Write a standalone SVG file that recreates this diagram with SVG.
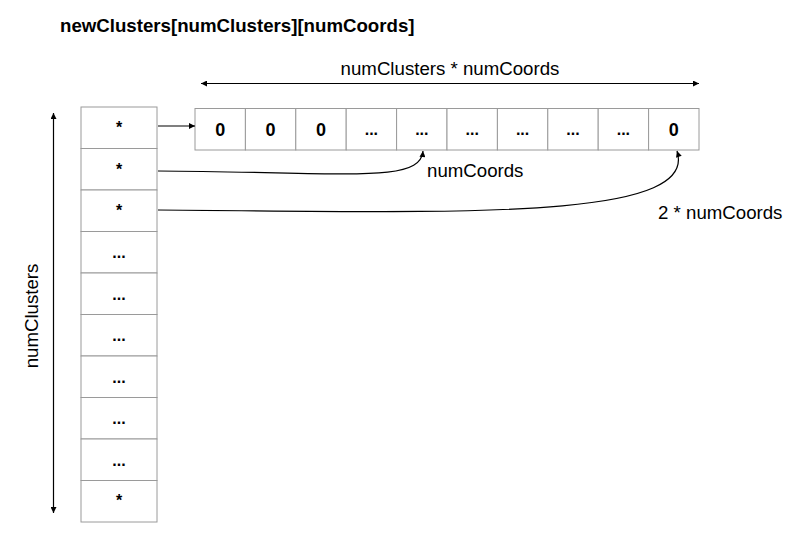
<svg xmlns="http://www.w3.org/2000/svg" width="803" height="544" viewBox="0 0 803 544">
<defs>
<marker id="ah" viewBox="0 0 10 10" refX="10" refY="5" markerWidth="7" markerHeight="6" markerUnits="userSpaceOnUse" orient="auto-start-reverse">
<path d="M0,0 L10,5 L0,10 Z" fill="#000"/>
</marker>
</defs>
<style>
.cell{fill:#fff;stroke:#9a9a9a;stroke-width:1}
.lbl{font-family:"Liberation Sans",Arial,sans-serif;font-size:18.67px;fill:#000}
.ttl{font-family:"Liberation Sans",Arial,sans-serif;font-size:18.67px;font-weight:bold;fill:#000}
.v{font-family:"Liberation Sans",Arial,sans-serif;font-size:16px;font-weight:bold;fill:#000;text-anchor:middle}
.z{font-family:"Liberation Sans",Arial,sans-serif;font-size:18px;font-weight:bold;fill:#000;text-anchor:middle}
.c{fill:none;stroke:#000;stroke-width:1.2}
</style>
<rect width="803" height="544" fill="#fff"/>
<text class="ttl" x="60" y="32">newClusters[numClusters][numCoords]</text>
<g id="pointer-column">
<rect class="cell" x="81" y="107" width="76" height="41.5"/>
<rect class="cell" x="81" y="148.5" width="76" height="41.5"/>
<rect class="cell" x="81" y="190" width="76" height="41.5"/>
<rect class="cell" x="81" y="231.5" width="76" height="41.5"/>
<rect class="cell" x="81" y="273" width="76" height="41.5"/>
<rect class="cell" x="81" y="314.5" width="76" height="41.5"/>
<rect class="cell" x="81" y="356" width="76" height="41.5"/>
<rect class="cell" x="81" y="397.5" width="76" height="41.5"/>
<rect class="cell" x="81" y="439" width="76" height="41.5"/>
<rect class="cell" x="81" y="480.5" width="76" height="41.5"/>
<text class="v" x="119" y="133">*</text>
<text class="v" x="119" y="174.5">*</text>
<text class="v" x="119" y="216">*</text>
<text class="v" x="119" y="258">...</text>
<text class="v" x="119" y="299.5">...</text>
<text class="v" x="119" y="341">...</text>
<text class="v" x="119" y="382.5">...</text>
<text class="v" x="119" y="424">...</text>
<text class="v" x="119" y="465.5">...</text>
<text class="v" x="119" y="506">*</text>
</g>
<g id="data-array">
<rect class="cell" x="195" y="108.5" width="50.4" height="41.5"/>
<rect class="cell" x="245.4" y="108.5" width="50.4" height="41.5"/>
<rect class="cell" x="295.8" y="108.5" width="50.4" height="41.5"/>
<rect class="cell" x="346.2" y="108.5" width="50.4" height="41.5"/>
<rect class="cell" x="396.6" y="108.5" width="50.4" height="41.5"/>
<rect class="cell" x="447" y="108.5" width="50.4" height="41.5"/>
<rect class="cell" x="497.4" y="108.5" width="50.4" height="41.5"/>
<rect class="cell" x="547.8" y="108.5" width="50.4" height="41.5"/>
<rect class="cell" x="598.2" y="108.5" width="50.4" height="41.5"/>
<rect class="cell" x="648.6" y="108.5" width="50.4" height="41.5"/>
<text class="z" x="220.2" y="136">0</text>
<text class="z" x="270.6" y="136">0</text>
<text class="z" x="321" y="136">0</text>
<text class="v" x="371.4" y="135">...</text>
<text class="v" x="421.8" y="135">...</text>
<text class="v" x="472.2" y="135">...</text>
<text class="v" x="522.6" y="135">...</text>
<text class="v" x="573" y="135">...</text>
<text class="v" x="623.4" y="135">...</text>
<text class="z" x="673.8" y="136">0</text>
</g>
<g id="connectors">
<line class="c" x1="201" y1="83.5" x2="699" y2="83.5" marker-start="url(#ah)" marker-end="url(#ah)"/>
<line class="c" x1="53.5" y1="113" x2="53.5" y2="513" marker-start="url(#ah)" marker-end="url(#ah)"/>
<line class="c" x1="158" y1="126" x2="195" y2="126" marker-end="url(#ah)"/>
<path class="c" d="M158,171 C350,172 420,184 423,151" marker-end="url(#ah)"/>
<path class="c" d="M158,210 C450,212 700,222 677,151" marker-end="url(#ah)"/>
</g>
<g id="labels">
<text class="lbl" x="450" y="75" text-anchor="middle">numClusters * numCoords</text>
<text class="lbl" x="427" y="177">numCoords</text>
<text class="lbl" x="658" y="219">2 * numCoords</text>
<text class="lbl" transform="translate(38,316) rotate(-90)" text-anchor="middle">numClusters</text>
</g>
</svg>
